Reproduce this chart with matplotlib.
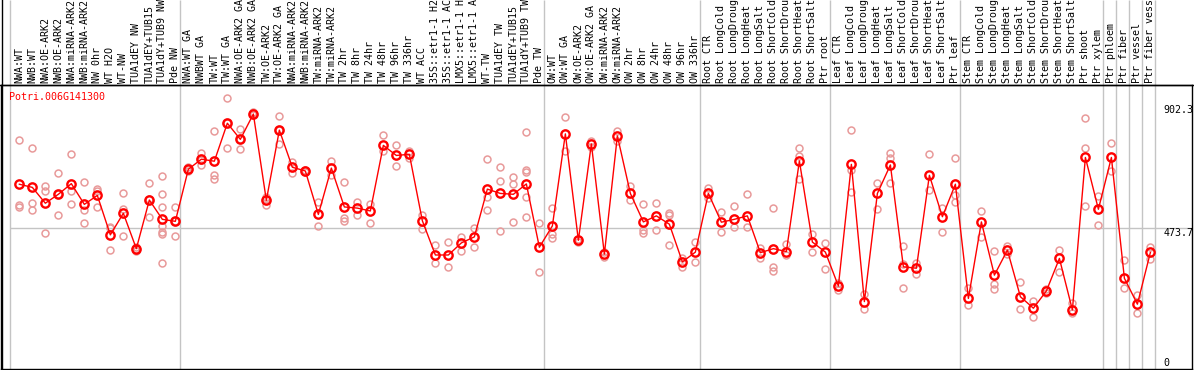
import matplotlib
matplotlib.use("Agg")
import matplotlib.pyplot as plt
from matplotlib.lines import Line2D

# ---------------------------------------------------------------------------
# data
# ---------------------------------------------------------------------------
gene = "Potri.006G141300"

labels = [
    "NWA:WT", "NWB:WT", "NWA:OE-ARK2", "NWB:OE-ARK2", "NWA:miRNA-ARK2",
    "NWB:miRNA-ARK2", "NW 0hr", "WT H2O", "WT-NW", "TUA1dEY NW",
    "TUA1dEY+TUB15", "TUA1dY+TUB9 NW", "Pde NW",
    "NWA:WT GA", "NWBWT GA", "TW:WT", "TW:WT GA", "NWA:OE-ARK2 GA",
    "NWB:OE-ARK2 GA", "TW:OE-ARK2", "TW:OE-ARK2 GA", "NWA:miRNA-ARK2",
    "NWB:miRNA-ARK2", "TW:miRNA-ARK2", "TW:miRNA-ARK2", "TW 2hr", "TW 8hr",
    "TW 24hr", "TW 48hr", "TW 96hr", "TW 336hr", "WT ACC", "35S::etr1-1 H2",
    "35S::etr1-1 AC", "LMX5::etr1-1 H", "LMX5::etr1-1 A", "WT-TW",
    "TUA1dEY TW", "TUA1dEY+TUB15", "TUA1dY+TUB9 TW", "Pde TW",
    "OW:WT", "OW:WT GA", "OW:OE-ARK2", "OW:OE-ARK2 GA", "OW:miRNA-ARK2",
    "OW:miRNA-ARK2", "OW 2hr", "OW 8hr", "OW 24hr", "OW 48hr", "OW 96hr",
    "OW 336hr",
    "Root CTR", "Root LongCold", "Root LongDroug", "Root LongHeat",
    "Root LongSalt", "Root ShortCold", "Root ShortDrou", "Root ShortHeat",
    "Root ShortSalt", "Ptr root",
    "Leaf CTR", "Leaf LongCold", "Leaf LongDroug", "Leaf LongHeat",
    "Leaf LongSalt", "Leaf ShortCold", "Leaf ShortDrou", "Leaf ShortHeat",
    "Leaf ShortSalt", "Ptr leaf",
    "Stem CTR", "Stem LongCold", "Stem LongDroug", "Stem LongHeat",
    "Stem LongSalt", "Stem ShortCold", "Stem ShortDrou", "Stem ShortHeat",
    "Stem ShortSalt", "Ptr shoot", "Ptr xylem",
    "Ptr phloem", "Ptr fiber", "Ptr vessel", "Ptr fiber vess",
]

means = [
    627, 616, 561, 592, 629, 557, 588, 451, 526, 403, 572, 505, 498,
    679, 714, 707, 839, 783, 871, 571, 815, 686, 673, 522, 683, 548, 544,
    534, 762, 727, 731, 500, 381, 381, 423, 444, 610, 595, 592, 628, 408,
    482, 802, 432, 767, 384, 795, 595, 496, 517, 488, 357, 391,
    595, 495, 505, 517, 389, 403, 393, 708, 426, 391,
    273, 696, 219, 595, 694, 340, 335, 658, 514, 627,
    230, 496, 311, 398, 236, 196, 256, 369, 190, 720, 540,
    720, 300, 210, 390,
]

replicates = [
    [780, 554, 549], [752, 562, 539], [621, 605, 456], [665, 519, 592],
    [731, 605, 557], [634, 537, 491], [609, 602, 547], [479, 397, 474],
    [595, 540, 446], [410, 396, 403], [630, 512, 574],
    [654, 592, 548, 483, 462, 454, 352], [548, 447, 498],
    [686, 679, 672], [737, 693, 711], [812, 658, 645], [926, 752, 839],
    [818, 751, 783], [879, 873, 868], [584, 555, 574], [864, 767, 815],
    [705, 667], [676, 670], [564, 483], [708, 659], [635, 508, 500],
    [565, 521], [558, 491], [797, 741], [763, 689], [742, 719], [520, 471],
    [415, 354], [425, 340], [445, 396], [475, 408], [715, 581, 536],
    [686, 638, 463], [652, 629, 496], [807, 676, 671, 584, 513], [491, 321],
    [544, 454, 439], [859, 744], [435, 427], [778, 758], [392, 375],
    [813, 777], [621, 571], [557, 468, 456], [561, 467], [528, 521, 416],
    [372, 340], [427, 356],
    [613, 578], [532, 462], [551, 479], [592, 477], [404, 369],
    [544, 340, 327], [419, 381], [752, 725, 644], [454, 391], [424, 331],
    [285, 259], [815, 676, 599], [193, 244], [632, 540], [734, 717, 630],
    [412, 350, 265], [354, 315], [731, 607], [543, 460], [717, 590, 566],
    [265, 207], [534, 445], [395, 280, 262], [412, 384], [286, 192],
    [222, 164], [263, 248], [398, 323], [215, 181], [856, 752, 552],
    [586, 484],
    [769, 673], [362, 265], [242, 178], [410, 366],
]

# last sample index of each tissue group (grey separators)
group_ends = [12, 40, 52, 62, 72, 83, 84, 85, 86, 87]
ref_ticks = [902.3, 473.7, 0]

# ---------------------------------------------------------------------------
# figure
# ---------------------------------------------------------------------------
W, H = 1194, 370
MONO = "DejaVu Sans Mono"
FS = 7.2
RED = "#ff0000"
PINK = "#e89a9a"
GRID = "#c4c4c4"

fig = plt.figure(figsize=(W / 100, H / 100), dpi=100)
# plot box: x 1..1192 px, y 85..369 px (from top)
ax = fig.add_axes([1 / W, 1 / H, 1191 / W, 284 / H])
ax.set_xlim(-1.41, 90.2)
ax.set_ylim(-15.3, 971.9)
ax.set_xticks([]); ax.set_yticks([])
for s in ax.spines.values():
    s.set_linewidth(1.0)
    s.set_color("black")

xs = list(range(len(labels)))

# group separators run up through the label strip
xt = ax.get_xaxis_transform()
sep_x = [-0.7] + [e + 5 / 13 for e in group_ends]
ax.vlines(sep_x, 0, 369 / 284, transform=xt, colors=GRID, lw=1.0,
          clip_on=False, zorder=1)
ax.hlines(473.7, sep_x[0], 90.2, colors=GRID, lw=1.0, zorder=1)

# replicates
rx = [i for i, r in enumerate(replicates) for _ in r]
ry = [v for r in replicates for v in r]
ax.plot(rx, ry, "o", ls="none", ms=5, mfc="none", mec=PINK, mew=1.1, zorder=2)

# means
ax.plot(xs, means, "-", color=RED, lw=1.0, zorder=3)
ax.plot(xs, means, "o", ls="none", ms=6, mfc="none", mec=RED, mew=1.7, zorder=4)

# rotated sample labels above the box
for i, lab in enumerate(labels):
    ax.text(i, 1 + 2 / 284, lab, transform=xt, rotation=90, ha="center",
            va="bottom", family=MONO, fontsize=FS, color="black")

# gene id
ax.text(-0.77, (369 - 97) / 284, gene, transform=xt, ha="left", va="center",
        family=MONO, fontsize=FS, color=RED)

# right-hand value labels
tx = (1163 - 19.3) / 13
ax.text(tx, ref_ticks[0], f"{ref_ticks[0]:.1f}", ha="left", va="top",
        family=MONO, fontsize=FS, clip_on=False)
ax.text(tx, ref_ticks[1], f"{ref_ticks[1]:.1f}", ha="left", va="top",
        family=MONO, fontsize=FS, clip_on=False)
ax.text(tx, ref_ticks[2] - 4, f"{ref_ticks[2]:g}", ha="left", va="baseline",
        family=MONO, fontsize=FS, clip_on=False)

# outer frame: full-width line under the labels, left edge to the top
fig.add_artist(Line2D([0, 1], [(H - 85) / H] * 2, color="black", lw=1.0))
fig.add_artist(Line2D([1.5 / W] * 2, [0, 1], color="black", lw=1.0))

fig.savefig("out.png", dpi=100)
plt.close(fig)
